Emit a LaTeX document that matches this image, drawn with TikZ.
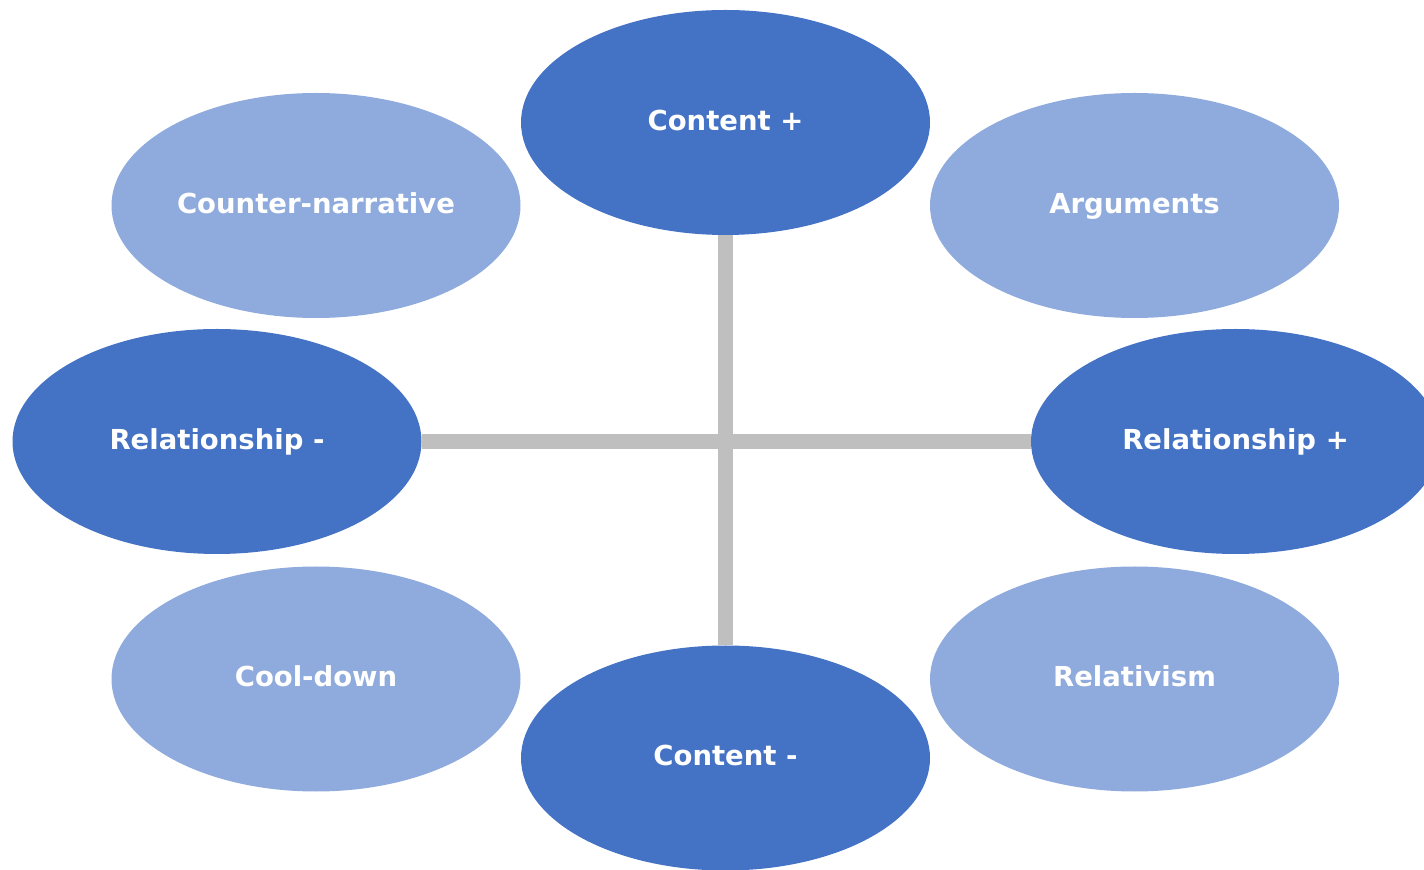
\documentclass[tikz,border=0pt]{standalone}
\usepackage{fontspec}
\setmainfont{DejaVu Sans}
\usetikzlibrary{shapes.geometric}
\definecolor{darkblue}{RGB}{68,114,196}
\definecolor{lightblue}{RGB}{143,170,220}
\definecolor{axisgray}{RGB}{191,191,191}

\begin{document}
\begin{tikzpicture}[x=0.5pt, y=-0.5pt,
    bubble/.style={ellipse, minimum width=204.5pt, minimum height=112.5pt,
                   inner sep=0pt, outer sep=0pt, text=white,
                   text height=1em, text depth=0.2em,
                   font=\bfseries\fontsize{13.75}{16}\selectfont},
    main/.style={bubble, fill=darkblue},
    side/.style={bubble, fill=lightblue},
    axis/.style={draw=axisgray, line width=7.5pt},
    ]
    \clip (0,0) rectangle (1424,870);

    \node[side] (Counter) at (316, 205.5) {Counter-narrative};
    \node[side] (Args) at (1134.5, 205.5) {Arguments};
    \node[side] (Cool) at (316, 679) {Cool-down};
    \node[side] (Rel) at (1134.5, 679) {Relativism};

    \node[main] (Cplus) at (725.5, 122.5) {Content +};
    \node[main] (Cminus) at (725.5, 758) {Content -};
    \node[main] (Rminus) at (217, 441.5) {Relationship -};
    \node[main] (Rplus) at (1235.5, 441.5) {Relationship +};

    \path[axis] (Cplus.south) -- (Cminus.north);
    \path[axis] (Rminus.east) -- (Rplus.west);
\end{tikzpicture}
\end{document}
